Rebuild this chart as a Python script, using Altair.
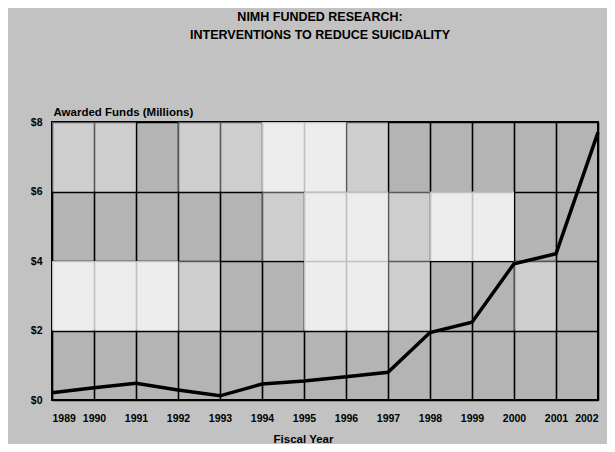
import altair as alt
import pandas as pd

years = [1989, 1990, 1991, 1992, 1993, 1994, 1995, 1996, 1997, 1998, 1999, 2000, 2001, 2002]
funds = [0.21, 0.35, 0.48, 0.29, 0.12, 0.46, 0.55, 0.67, 0.80, 1.94, 2.24, 3.92, 4.21, 7.70]
y_ticks = [0, 2, 4, 6, 8]

# cloud-like lighter cells of the background (start year, start value)
white_cell_years = [1994, 1995, 1995, 1996, 1998, 1999, 1989, 1990, 1991, 1995, 1996]
white_cell_vals = [6, 6, 4, 4, 4, 4, 2, 2, 2, 2, 2]
light_cell_years = [1989, 1990, 1992, 1993, 1996, 1994, 1997, 1992, 1997, 2000]
light_cell_vals = [6, 6, 6, 6, 6, 4, 4, 2, 2, 2]

df = pd.DataFrame({"year": years, "funds": funds})
white = pd.DataFrame({"x": white_cell_years, "y": white_cell_vals})
white["x2"] = white["x"] + 1
white["y2"] = white["y"] + 2
light = pd.DataFrame({"x": light_cell_years, "y": light_cell_vals})
light["x2"] = light["x"] + 1
light["y2"] = light["y"] + 2

xs = alt.Scale(domain=[1989, 2002], nice=False, zero=False)
ys = alt.Scale(domain=[0, 8], nice=False)

font = "Liberation Sans"

x_axis = alt.Axis(
    values=years, format="d", title="Fiscal Year", grid=True, gridColor="black",
    gridWidth=1.6, gridOpacity=1, domain=False, ticks=False, labelPadding=13,
    labelFont=font, labelFontSize=10.5, labelFontWeight="bold", labelColor="black",
    titleFont=font, titleFontSize=11.5, titleFontWeight="bold", titleColor="black",
    titleX=251, titleY=42, titleBaseline="alphabetic", titleAlign="center",
)
y_axis = alt.Axis(
    values=y_ticks, labelExpr="'$' + datum.value", title="Awarded Funds (Millions)",
    grid=True, gridColor="black", gridWidth=1.6, gridOpacity=1, domain=False,
    ticks=False, labelPadding=10, labelFont=font, labelFontSize=10.5,
    labelFontWeight="bold", labelColor="black",
    titleFont=font, titleFontSize=11.5, titleFontWeight="bold", titleColor="black",
    titleAngle=0, titleX=1, titleY=-7, titleAlign="left", titleBaseline="alphabetic",
)

white_layer = alt.Chart(white).mark_rect(color="white", opacity=0.75).encode(
    x=alt.X("x:Q", scale=xs, axis=x_axis), x2="x2", y=alt.Y("y:Q", scale=ys, axis=y_axis), y2="y2"
)
light_layer = alt.Chart(light).mark_rect(color="white", opacity=0.35).encode(
    x=alt.X("x:Q", scale=xs), x2="x2", y=alt.Y("y:Q", scale=ys), y2="y2"
)
line = alt.Chart(df).mark_line(color="black", strokeWidth=3.5, strokeJoin="miter", clip=False).encode(
    x=alt.X("year:Q", scale=xs),
    y=alt.Y("funds:Q", scale=ys),
)

chart = (
    alt.layer(white_layer, light_layer, line)
    .properties(
        width=546, height=278,
        autosize=alt.AutoSizeParams(type="none"),
        padding={"left": 44, "top": 114, "right": 9, "bottom": 44},
        title=alt.TitleParams(
            text=["NIMH FUNDED RESEARCH:", "INTERVENTIONS TO REDUCE SUICIDALITY"],
            font=font, fontSize=12.5, fontWeight="bold", color="black",
            anchor="middle", offset=65, dx=-5, lineHeight=18,
        ),
        background="#c2c2c2",
    )
    .configure_view(stroke="black", strokeWidth=2, fill="#b4b4b4")
)

chart.save("out.html", embed_options={"renderer": "svg", "actions": False})
